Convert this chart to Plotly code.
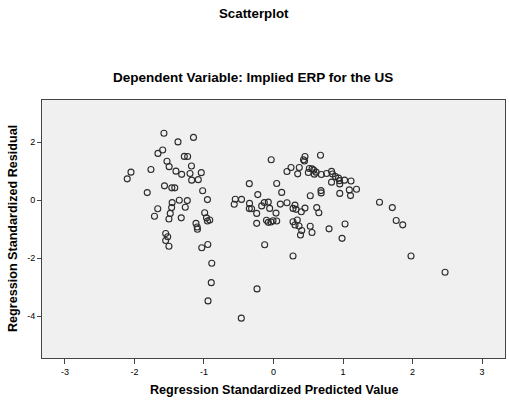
import plotly.graph_objects as go

# Regression standardized predicted values (x) and residuals (y)
predicted = [
    -2.104, -2.050, -1.763, -1.816, -1.576, -1.594, -1.662, -1.532, -1.501, -1.403,
    -1.374, -1.321, -1.283, -1.235, -1.151, -1.180, -1.201, -1.177, -1.082, -1.039,
    -1.019, -0.950, -1.568, -1.463, -1.420, -1.355, -1.240, -1.458, -1.465, -1.269,
    -1.665, -1.712, -1.485, -1.504, -1.327, -0.990, -0.964, -0.917, -0.950, -1.115,
    -1.098, -1.094, -1.551, -1.522, -1.551, -1.504, -1.032, -0.945, -0.888, -0.895,
    -0.942, -0.463, -0.550, -0.460, -0.565, -0.348, -0.345, -0.348, -0.315, -0.242,
    -0.226, -0.170, -0.132, -0.075, -0.055, -0.242, -0.101, -0.075, -0.036, -0.007,
    0.046, -0.127, -0.237, -0.033, 0.046, 0.118, 0.036, 0.098, 0.194, 0.309,
    0.281, 0.324, 0.400, 0.453, 0.281, 0.342, 0.309, 0.367, 0.406, 0.388,
    0.528, 0.554, 0.281, 0.453, 0.432, 0.446, 0.676, 0.252, 0.194, 0.371,
    0.348, 0.515, 0.501, 0.554, 0.578, 0.612, 0.587, 0.529, 0.622, 0.652,
    0.688, 0.763, 0.835, 0.849, 0.892, 0.935, 0.950, 1.022, 1.115, 0.835,
    0.953, 0.683, 0.686, 0.953, 1.091, 1.194, 1.108, 1.525, 1.709, 1.765,
    1.859, 1.978, 2.468, 1.029, 0.799, 0.986,
]
residual = [
    0.740, 0.971, 1.064, 0.265, 2.313, 1.735, 1.618, 1.349, 1.160, 1.005,
    2.014, 0.895, 1.515, 1.511, 2.169, 1.184, 0.926, 0.695, 0.713, 0.954,
    0.327, 0.024, 0.499, 0.430, 0.430, 0.000, -0.010, -0.079, -0.251, -0.241,
    -0.293, -0.551, -0.451, -0.647, -0.606, -0.430, -0.606, -0.682, -0.716, -0.795,
    -0.923, -0.998, -1.146, -1.256, -1.387, -1.583, -1.639, -1.525, -2.172, -2.840,
    -3.470, -4.065, 0.034, 0.031, -0.138, 0.575, -0.107, -0.286, -0.293, -0.451,
    0.196, -0.193, -0.079, -0.062, -0.279, -0.795, -0.688, -0.761, -0.750, -0.706,
    -0.716, -1.535, -3.057, 1.401, 0.582, 0.272, -0.441, -0.131, -0.086, -0.165,
    -0.279, -0.313, -0.396, -0.269, -0.740, -0.682, -0.854, -0.888, -1.043, -1.198,
    -0.895, -1.112, -1.921, 1.511, 1.401, 1.356, 1.556, 1.133, 0.995, 1.133,
    0.912, 1.098, 0.960, 1.084, 1.040, 0.971, 0.902, 0.155, -0.251, -0.430,
    0.892, 0.926, 0.998, 0.909, 0.816, 0.764, 0.678, 0.695, 0.668, 0.627,
    0.565, 0.334, 0.255, 0.238, 0.358, 0.379, 0.162, -0.069, -0.251, -0.699,
    -0.847, -1.921, -2.482, -0.819, -0.985, -1.312,
]

x_ticks = [-3, -2, -1, 0, 1, 2, 3]
y_ticks = [-4, -2, 0, 2]

FONT = "Liberation Sans, Arial, sans-serif"

fig = go.Figure()
fig.add_trace(go.Scatter(
    x=predicted, y=residual, mode="markers",
    marker=dict(symbol="circle-open", size=6, color="#2b2b2b",
                line=dict(width=1.1, color="#2b2b2b")),
    hoverinfo="x+y", showlegend=False,
))

fig.update_layout(
    width=509, height=405,
    margin=dict(l=42, r=4, t=100, b=47),
    paper_bgcolor="white",
    plot_bgcolor="#F0F0F0",
    font=dict(family=FONT, size=10, color="#000000"),
    xaxis=dict(
        range=[-3.33, 3.33], tickvals=x_ticks, ticktext=[str(v) for v in x_ticks],
        showgrid=False, zeroline=False, showline=True, linecolor="#444444",
        linewidth=1, mirror=True, ticks="outside", ticklen=5, tickcolor="#444444",
        tickfont=dict(size=9, family=FONT),
    ),
    yaxis=dict(
        range=[-5.44, 3.46], tickvals=y_ticks, ticktext=[str(v) for v in y_ticks],
        showgrid=False, zeroline=False, showline=True, linecolor="#444444",
        linewidth=1, mirror=True, ticks="outside", ticklen=4, tickcolor="#444444",
        tickfont=dict(size=9, family=FONT),
    ),
    annotations=[
        dict(text="<b>Scatterplot</b>", xref="paper", yref="paper",
             x=0.458, y=1.337, showarrow=False, xanchor="center", yanchor="middle",
             font=dict(size=13.3, family=FONT)),
        dict(text="<b>Dependent Variable: Implied ERP for the US</b>", xref="paper",
             yref="paper", x=0.456, y=1.089, showarrow=False, xanchor="center",
             yanchor="middle", font=dict(size=13.5, family=FONT)),
        dict(text="<b>Regression Standardized Predicted Value</b>", xref="paper",
             yref="paper", x=0.501, y=-0.124, showarrow=False, xanchor="center",
             yanchor="middle", font=dict(size=12.6, family=FONT)),
        dict(text="<b>Regression Standardized Residual</b>", xref="paper",
             yref="paper", x=-0.0626, y=0.5, showarrow=False, xanchor="center",
             yanchor="middle", textangle=-90, font=dict(size=12.6, family=FONT)),
    ],
)

fig.write_html("out.html")
